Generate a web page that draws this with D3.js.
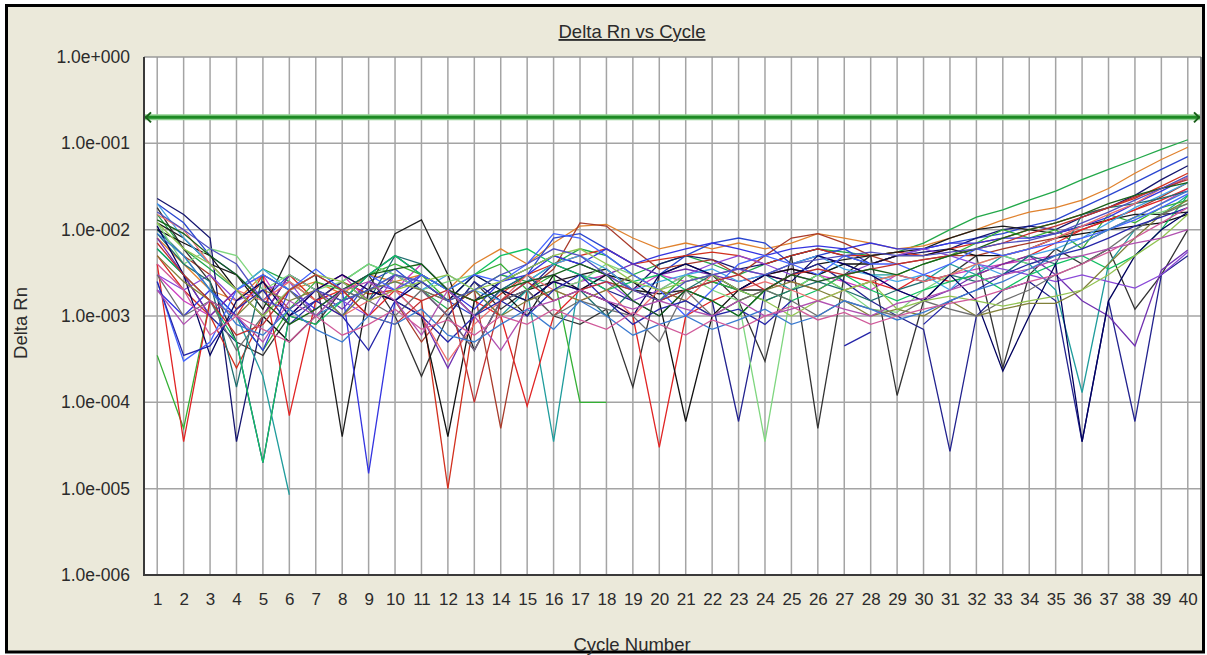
<!DOCTYPE html>
<html>
<head>
<meta charset="utf-8">
<script src="https://cdn.jsdelivr.net/npm/d3@7"></script>
<style>
  body { margin: 0; background: #fff; }
  svg text { font-family: "Liberation Sans", Arial, sans-serif; fill: #2b2b2b; }
</style>
</head>
<body>
<div id="chart"></div>
<script>
// cycle numbers on the x axis
var cycles = [1,2,3,4,5,6,7,8,9,10,11,12,13,14,15,16,17,18,19,20,21,22,23,24,25,26,27,28,29,30,31,32,33,34,35,36,37,38,39,40];
// decades on the log y axis
var yTicks = [1e-6, 1e-5, 1e-4, 1e-3, 1e-2, 1e-1, 1];
var threshold = 0.2;

// delta Rn per well, one value per cycle (null = not plotted)
var w01 = [1.5e-2,6e-3,3.5e-3,2e-3,3.5e-3,2.5e-3,1.5e-3,2.5e-3,4e-3,3e-3,2e-3,1.2e-3,2e-3,3e-3,2.5e-3,4e-3,6e-3,5e-3,3e-3,4e-3,5e-3,4e-3,3e-3,4e-3,5e-3,6e-3,5.5e-3,5e-3,5.5e-3,7e-3,1e-2,1.4e-2,1.7e-2,2.2e-2,2.8e-2,3.8e-2,5e-2,6.5e-2,8.5e-2,1.1e-1];
var w02 = [8e-3,4e-3,2e-3,1.5e-3,3e-3,2e-3,2.5e-3,1.8e-3,3e-3,2.5e-3,3e-3,2e-3,4e-3,6e-3,4e-3,7e-3,1.1e-2,1.15e-2,8e-3,6e-3,7e-3,6e-3,7e-3,6e-3,7e-3,9e-3,8e-3,7e-3,6e-3,6.5e-3,8e-3,1e-2,1.3e-2,1.6e-2,1.8e-2,2.2e-2,3e-2,4.5e-2,6.5e-2,9e-2];
var w03 = [2e-2,1.2e-2,5e-3,3e-3,1.5e-3,3e-3,2e-3,1e-3,2.5e-3,3.5e-3,2e-3,1.5e-3,1e-3,2e-3,3e-3,8e-3,9e-3,6e-3,4e-3,3e-3,5e-3,7e-3,8e-3,7e-3,4e-3,5e-3,6e-3,4e-3,5e-3,6e-3,7e-3,8e-3,9e-3,1.1e-2,1.3e-2,1.8e-2,2.5e-2,3.5e-2,5e-2,7e-2];
var w04 = [2.3e-2,1.5e-2,8e-3,3.5e-5,1e-3,3e-3,2e-3,1.5e-3,3e-3,5e-3,3e-3,2e-3,1.5e-3,2.5e-3,3.5e-3,5e-3,4e-3,3e-3,2e-3,4e-3,5e-3,4.5e-3,3.5e-3,4e-3,5e-3,6e-3,5e-3,4e-3,5e-3,5.5e-3,6e-3,8e-3,1e-2,1.1e-2,1e-2,1.4e-2,1.8e-2,2.5e-2,3.8e-2,5.5e-2];
var w05 = [5e-3,2e-3,1e-3,2.5e-4,1e-3,3e-3,1.5e-3,2.5e-3,1.8e-3,2e-3,1.5e-3,1e-5,1e-3,1.8e-3,3e-3,4e-3,5e-3,6e-3,4e-3,4.5e-3,5e-3,5.5e-3,5e-3,4e-3,5e-3,6e-3,5e-3,5e-3,5.5e-3,5e-3,6e-3,7e-3,8e-3,1e-2,1.2e-2,1.5e-2,1.8e-2,2.3e-2,3.2e-2,4.5e-2];
var w06 = [1e-2,5e-3,3e-3,1.2e-3,2.5e-3,1.2e-3,2e-3,3e-3,2e-3,1.5e-3,5e-4,1.2e-3,2e-3,5e-5,2e-3,3.5e-3,1.2e-2,1.1e-2,6e-3,3.5e-3,4e-3,4.5e-3,3e-3,5e-3,8e-3,9e-3,7e-3,5e-3,4e-3,4.5e-3,5e-3,5e-3,6e-3,7e-3,8e-3,1e-2,1.3e-2,1.7e-2,2.4e-2,3.5e-2];
var w07 = [3e-3,1.5e-3,1e-3,2e-3,3e-3,1e-3,2e-3,3e-3,1.5e-3,2e-3,4e-3,2e-3,1e-3,2e-3,1.5e-3,2e-3,2.5e-3,3e-3,2e-3,3e-3,2.5e-3,3e-3,3.5e-3,3e-3,3.5e-3,3e-3,2.5e-3,2e-3,3e-3,2.5e-3,3e-3,3.5e-3,4e-3,4.5e-3,5e-3,7e-3,1e-2,1.4e-2,2e-2,3e-2];
var w08 = [1.2e-2,8e-3,4e-3,3e-3,1.2e-3,5e-3,3e-3,4e-5,2e-3,9e-3,1.3e-2,3e-3,4e-4,1.5e-3,2e-3,2.5e-3,3e-3,3.5e-3,2e-3,1.8e-3,2e-3,2.5e-3,2e-3,2e-3,3e-3,4e-3,4.5e-3,5e-3,5.5e-3,6e-3,8e-3,1e-2,1.1e-2,1e-2,9e-3,1.1e-2,1.3e-2,1.5e-2,1.5e-2,1.6e-2];
var w09 = [1.8e-2,6e-3,2.5e-3,5e-4,3.5e-4,1e-3,8e-4,2e-3,3e-3,1e-3,2e-4,1e-3,2.5e-3,1.2e-3,2e-3,1e-3,8e-4,1.2e-3,1.5e-4,3e-3,4e-3,3e-3,1.5e-3,3e-4,5e-3,5e-5,3e-3,5e-3,1.2e-4,1.5e-3,3e-3,5e-3,2.5e-4,3e-3,6e-3,4e-3,6e-3,1.2e-3,3e-3,1e-2];
var w10 = [6e-3,3e-3,1e-3,5e-4,2e-5,1e-3,1.5e-3,2.5e-3,1.5e-3,3e-3,2e-3,1e-3,2.5e-3,1.5e-3,2e-3,4e-3,3e-3,2e-3,1.5e-3,1e-3,2e-3,1.5e-3,6e-5,2e-3,3e-3,4e-3,2.5e-3,1.5e-3,1e-3,7e-4,2.7e-5,1e-3,2e-3,2.5e-3,1.5e-3,3.5e-5,1.5e-3,6e-5,3e-3,5e-3];
var w11 = [1e-2,5e-3,2e-3,1e-3,2e-4,8.5e-6,null,1.5e-3,2e-3,3e-3,2.5e-3,1.5e-3,2e-3,1e-3,2e-3,3.5e-5,3e-3,2.5e-3,2e-3,1.5e-3,2e-3,2.5e-3,2e-3,3e-3,2e-3,3e-3,4e-3,3e-3,3e-3,2.5e-3,4e-3,3e-3,5e-3,4e-3,2e-3,1.3e-4,4e-3,1e-2,1.5e-2,2.5e-2];
var w12 = [3.5e-4,5e-5,1.5e-3,1e-3,4e-4,1.2e-3,2.5e-3,2e-3,3e-3,4e-3,3e-3,1.5e-3,3e-3,4e-3,2e-3,3e-3,1e-4,1e-4,null,1.5e-3,3e-3,2.5e-3,2e-3,1.5e-3,2e-3,3e-3,2e-3,2.5e-3,3e-3,4e-3,5e-3,7e-3,1e-2,8e-3,1e-2,6e-3,1.5e-2,1.2e-2,1.8e-2,2.2e-2];
var w13 = [4e-3,3.5e-5,1.5e-3,1e-3,3e-3,7e-5,1.5e-3,2e-3,1e-3,2e-3,3e-3,2e-3,1.5e-3,1e-3,9e-5,1e-3,2e-3,1.5e-3,1e-3,3e-5,1e-3,1.5e-3,2e-3,3e-3,2.5e-3,2e-3,3e-3,2.5e-3,2e-3,3e-3,2.5e-3,3e-3,4e-3,5e-3,7e-3,1e-2,1.3e-2,1.7e-2,2.2e-2,3e-2];
var w14 = [2e-3,1e-3,2e-3,1e-3,4e-4,2e-3,1.2e-3,2e-3,1.5e-5,1.5e-3,3e-3,2e-3,1.2e-3,2.5e-3,3e-3,5e-3,4e-3,6e-3,4e-3,5e-3,6e-3,7e-3,6e-3,5e-3,6e-3,6.5e-3,6e-3,7e-3,6e-3,6e-3,7e-3,7e-3,8e-3,8e-3,9e-3,1.1e-2,1.4e-2,2e-2,2.8e-2,4e-2];
var w15 = [8e-3,3e-3,1e-3,2e-3,1e-3,3e-3,2e-3,1.2e-3,2.5e-3,2e-3,1e-3,2.5e-4,1e-3,2e-3,1.5e-3,2.5e-3,2e-3,3e-3,4e-3,3e-3,3.5e-3,3e-3,2.5e-3,3e-3,4e-3,5e-3,4e-3,3e-3,2e-3,1.5e-3,2e-3,3e-3,4e-3,5e-3,3e-3,1.5e-3,1e-3,4.5e-4,3.4e-3,5.8e-3];
var w16 = [3e-3,2e-3,3e-3,1.5e-3,2e-3,2.5e-3,1e-3,1.5e-3,1e-3,3e-3,2e-3,1e-3,4e-4,1.5e-3,2.5e-3,3e-3,2e-3,2.5e-3,1.5e-3,2e-3,3e-3,4e-3,5e-3,4e-3,3e-3,2.5e-3,3e-3,4e-3,5e-3,6e-3,5e-3,4e-3,3.5e-3,3e-3,2.5e-3,3e-3,2.5e-3,2.1e-3,3e-3,5.5e-3];
var w17 = [1e-2,7e-3,5e-3,2e-3,1e-3,5e-4,1e-3,1.5e-3,2e-3,1.5e-3,1e-3,4e-5,1.5e-3,2e-3,1e-3,3e-3,2e-3,3e-3,2.5e-3,1.5e-3,6e-5,1e-3,2e-3,3e-3,3.5e-3,3e-3,4e-3,4e-3,5e-3,5e-3,6e-3,5e-3,5e-3,6e-3,8e-3,9e-3,1e-2,1.1e-2,1.2e-2,1.5e-2];
var w18 = [1.2e-2,4e-3,6e-3,5e-3,2e-3,3e-3,2e-3,2.5e-3,4e-3,3e-3,2e-3,2.5e-3,3e-3,2e-3,1.5e-3,2e-3,2.5e-3,4e-3,3e-3,2e-3,3e-3,2e-3,1.5e-3,3.5e-5,2e-3,3e-3,2e-3,1.2e-3,1.1e-3,2e-3,3e-3,4e-3,5e-3,4e-3,5e-3,7e-3,1e-2,1.4e-2,1.6e-2,2e-2];
var w19 = [2e-2,8e-3,4e-3,2e-3,3.5e-3,2e-3,1e-3,1.5e-3,2e-3,2.5e-3,2e-3,3e-3,2e-3,1.5e-3,2.5e-3,4e-3,5e-3,3.5e-3,2e-3,2.5e-3,3e-3,3.5e-3,2.5e-3,3e-3,4e-3,5e-3,3.5e-3,3e-3,2.5e-3,3e-3,2e-3,4e-3,3e-3,5e-3,6e-3,8e-3,1.2e-2,1.8e-2,2.5e-2,3.5e-2];
var w20 = [9e-3,4e-3,2.5e-3,1.5e-4,3e-3,2e-3,3e-3,2e-3,1.5e-3,5e-3,4e-3,2e-3,1e-3,2e-3,3e-3,1.5e-3,2e-3,1e-3,2e-3,1.5e-3,2e-3,3e-3,2e-3,1.5e-3,2e-3,2.5e-3,2e-3,1.5e-3,2e-3,2.5e-3,3e-3,2.5e-3,3e-3,5e-3,4e-3,1.5e-2,1.8e-2,2e-2,2.3e-2,2.8e-2];
var w21 = [6e-3,3e-3,1.5e-3,5e-4,2e-5,1e-3,8e-4,1.5e-3,3e-3,5e-3,3e-3,2e-3,3e-3,5e-3,6e-3,4e-3,3e-3,2e-3,2.5e-3,3e-3,2e-3,1.5e-3,1e-3,2e-3,1.5e-3,2e-3,3e-3,2e-3,1.5e-3,2e-3,2.5e-3,3e-3,2e-3,3e-3,4e-3,5e-3,3.5e-3,5e-3,1e-2,2.5e-2];
var w22 = [1.5e-2,1e-2,4e-3,2e-3,1.5e-3,2.5e-3,1.5e-3,1e-3,1.5e-3,2e-3,1e-3,3e-4,8e-4,1.5e-3,3e-3,2e-3,1.5e-3,2e-3,1e-3,2e-3,1.5e-3,3e-3,2e-3,2.5e-3,2e-3,1.5e-3,2e-3,2.5e-3,3e-3,2.5e-3,3e-3,4e-3,5e-3,6e-3,8e-3,1.1e-2,1.5e-2,2e-2,3e-2,4e-2];
var w23 = [1.1e-2,3e-3,3.5e-4,1.5e-3,2.5e-3,1e-3,2e-3,3e-3,2e-3,1.5e-3,2.5e-3,1.5e-3,3e-3,2e-3,1.5e-3,2.5e-3,2e-3,1.5e-3,1e-3,3e-3,4e-3,3e-3,2e-3,3e-3,2.5e-3,5e-3,4e-3,3e-3,2e-3,1.5e-3,3e-3,1.5e-3,2.3e-4,1e-3,4e-3,3.5e-5,1.5e-3,5e-3,1e-2,1.6e-2];
var w24 = [5e-3,2.5e-3,1.5e-3,1e-3,2e-3,1.5e-3,2e-3,1e-3,2e-3,2.5e-3,2e-3,1.5e-3,2e-3,1e-3,1.5e-3,2e-3,1.5e-3,2e-3,3e-3,2e-3,1.5e-3,1e-3,1.5e-3,2e-3,2.5e-3,2e-3,1.5e-3,1e-3,1.2e-3,1e-3,1.5e-3,1e-3,1.2e-3,1.4e-3,1.4e-3,2e-3,4e-3,8e-3,1.5e-2,2.2e-2];
var w25 = [2.5e-3,3e-4,5e-4,2e-3,3e-3,2e-3,3.5e-3,2e-3,3e-3,2e-3,3e-3,2e-3,3e-3,2.5e-3,4e-3,9e-3,8e-3,5e-3,3e-3,2e-3,1e-3,2e-3,4e-3,5e-3,4e-3,3e-3,5e-3,4e-3,4e-3,3e-3,4e-3,6e-3,5e-3,6e-3,7e-3,8e-3,1e-2,1.3e-2,1.8e-2,2.6e-2];
var w26 = [3e-3,1e-3,1.5e-3,4e-4,1e-3,2e-3,1e-3,2e-3,1.5e-3,1e-3,2e-3,1e-3,4e-4,1.5e-3,2e-3,1e-3,1.5e-3,1.2e-3,1e-3,5e-4,2e-3,1e-3,1.5e-3,2e-3,1.5e-3,1e-3,1.5e-3,1.2e-3,1e-3,1.5e-3,1.2e-3,1e-3,1.5e-3,2e-3,3e-3,4e-3,6e-3,1e-2,1.5e-2,2e-2];
var w27 = [2.5e-3,3.5e-4,4.5e-4,1.2e-3,2e-3,8e-4,1.5e-3,1e-3,4e-4,1.5e-3,1e-3,5e-4,1e-3,1.5e-3,1e-3,2e-3,3e-3,1.5e-3,8e-4,1.2e-3,1.5e-3,1e-3,1.2e-3,8e-4,1.5e-3,null,4.5e-4,6.5e-4,null,8e-4,1.5e-3,2e-3,3e-3,4e-3,5e-3,6e-3,8e-3,1.1e-2,1.4e-2,1.8e-2];
var w28 = [1.2e-2,6e-3,4e-3,2e-3,1e-3,2e-3,3e-3,2.5e-3,1.5e-3,2e-3,2.5e-3,3e-3,2e-3,2.5e-3,3.5e-3,5e-3,6e-3,4e-3,2.5e-3,2e-3,2.5e-3,3e-3,2e-3,1.5e-3,1e-3,1.5e-3,2e-3,2.5e-3,1.2e-3,1.5e-3,1.7e-3,1.5e-3,1.3e-3,1.5e-3,1.7e-3,2e-3,3e-3,5e-3,8e-3,1.5e-2];
var w29 = [7e-3,3e-3,1.5e-3,6e-4,8e-4,2e-3,3e-3,2e-3,1e-3,8e-4,1.5e-3,2e-3,1e-4,1.5e-3,2.5e-3,1.5e-3,2e-3,2.5e-3,2e-3,1.5e-3,2e-3,2.5e-3,3e-3,2e-3,3e-3,3.5e-3,3e-3,3.5e-3,4e-3,4.5e-3,5e-3,6e-3,7e-3,9e-3,1.1e-2,1.4e-2,1.8e-2,2.4e-2,3e-2,3.8e-2];
var w30 = [1.3e-2,9e-3,5e-3,3e-3,1.5e-3,8e-4,1.2e-3,2e-3,3e-3,3.5e-3,4e-3,2e-3,1.5e-3,2e-3,2.5e-3,3e-3,4e-3,3e-3,1.5e-3,1e-3,2e-3,1.5e-3,1e-3,2e-3,3e-3,2.5e-3,3e-3,3.5e-3,3e-3,4e-3,5e-3,6e-3,8e-3,1e-2,1.2e-2,1.5e-2,2e-2,2.5e-2,3e-2,3.5e-2];
var w31 = [1.6e-2,1e-2,6e-3,4e-3,1.5e-3,1.2e-3,2e-3,1.5e-3,2e-3,3e-3,2.5e-3,1.5e-3,2e-3,3e-3,4e-3,6e-3,5e-3,3e-3,2e-3,1.5e-3,2.5e-3,3e-3,3.5e-3,3e-3,4e-3,4.5e-3,5e-3,5.5e-3,5e-3,5e-3,5.5e-3,6e-3,7e-3,7.5e-3,9e-3,1.2e-2,1.6e-2,2.2e-2,3e-2,4.2e-2];
var w32 = [2e-3,8e-4,1.5e-3,1e-3,5e-4,1.5e-3,1e-3,2e-3,2.5e-3,1.5e-3,6e-4,2e-3,1e-3,4e-4,1.2e-3,1.5e-3,2e-3,1.5e-3,1.2e-3,1.5e-3,1.2e-3,1e-3,1.5e-3,1e-3,1.2e-3,1.5e-3,1.2e-3,1e-3,1.4e-3,1.6e-3,2e-3,2.5e-3,3e-3,3.5e-3,4.5e-3,5e-3,6e-3,7e-3,8e-3,1e-2];
var w33 = [9e-3,5e-3,2e-3,8e-4,6e-4,1.2e-3,7e-4,5e-4,1e-3,8e-4,1.2e-3,6e-4,5e-4,8e-4,1.2e-3,7e-4,1.5e-3,1e-3,6e-4,8e-4,1e-3,7e-4,9e-4,1.2e-3,8e-4,1e-3,1.5e-3,1.2e-3,9e-4,1.1e-3,1.5e-3,2e-3,2.5e-3,3.5e-3,5e-3,7e-3,1e-2,1.4e-2,2e-2,2.8e-2];
var w34 = [4e-3,2e-3,6e-4,1e-3,7e-4,5e-4,1e-3,6e-4,8e-4,1.2e-3,7e-4,9e-4,6e-4,1e-3,8e-4,1.2e-3,9e-4,7e-4,1.1e-3,8e-4,6e-4,9e-4,7e-4,1e-3,1.3e-3,9e-4,1.1e-3,8e-4,1e-3,1.2e-3,1.4e-3,1.6e-3,2e-3,2.5e-3,3e-3,4e-3,5.5e-3,8e-3,1.2e-2,1.8e-2];

var wells = [w01,w02,w03,w04,w05,w06,w07,w08,w09,w10,w11,w12,w13,w14,w15,w16,w17,
             w18,w19,w20,w21,w22,w23,w24,w25,w26,w27,w28,w29,w30,w31,w32,w33,w34];
var wellColors = ["#23a84a","#e0822e","#2a46d0","#14146e","#d2301e","#a83a2a","#cc3cc0","#1c1c1c","#333333","#22228e",
                  "#1f9c9c","#34b034","#e02424","#3434e0","#7030b0","#8a48d8","#111111","#7fd67f","#44a4e4","#1e6e6e",
                  "#12c062","#ee6e6e","#00005e","#80803a","#4464ff","#6e6e6e","#2424a8","#92c452","#c03030","#186018",
                  "#5050c0","#b050b0","#3a7ad0","#d05a9a"];

var W = 1207, H = 655;
var pL = 144, pR = 1201, pT = 57, pB = 575;

var svg = d3.select("#chart").append("svg")
    .attr("width", W)
    .attr("height", H);

// window frame
svg.append("rect")
    .attr("x", 6.5).attr("y", 5.5)
    .attr("width", 1197).attr("height", 646.5)
    .attr("fill", "#ebe9da")
    .attr("stroke", "#000")
    .attr("stroke-width", 3);

var x = d3.scaleLinear().domain([0.5, 40.5]).range([pL, pR]);
var y = d3.scaleLog().domain([1e-6, 1]).range([pB, pT]);

svg.append("rect")
    .attr("x", pL).attr("y", pT)
    .attr("width", pR - pL).attr("height", pB - pT)
    .attr("fill", "#fff");

// grid
svg.append("g").selectAll("line").data(cycles).join("line")
    .attr("x1", d => x(d)).attr("x2", d => x(d))
    .attr("y1", pT).attr("y2", pB)
    .attr("stroke", "#a4a4a4").attr("stroke-width", 1.5);
svg.append("g").selectAll("line").data(yTicks.slice(1, -1)).join("line")
    .attr("x1", pL).attr("x2", pR)
    .attr("y1", d => y(d)).attr("y2", d => y(d))
    .attr("stroke", "#a4a4a4").attr("stroke-width", 1.5);

svg.append("clipPath").attr("id", "plot")
  .append("rect")
    .attr("x", pL).attr("y", pT)
    .attr("width", pR - pL).attr("height", pB - pT);

var line = d3.line()
    .defined(d => d != null)
    .x((d, i) => x(cycles[i]))
    .y(d => y(d));

svg.append("g").attr("clip-path", "url(#plot)")
  .selectAll("path").data(wells).join("path")
    .attr("d", line)
    .attr("fill", "none")
    .attr("stroke", (d, i) => wellColors[i])
    .attr("stroke-width", 1.3)
    .attr("stroke-linejoin", "miter");

// threshold
var ty = y(threshold);
svg.append("line")
    .attr("x1", pL + 1).attr("x2", pR - 1)
    .attr("y1", ty).attr("y2", ty)
    .attr("stroke", "#8fd08f").attr("stroke-width", 6);
svg.append("line")
    .attr("x1", pL + 1).attr("x2", pR - 1)
    .attr("y1", ty).attr("y2", ty)
    .attr("stroke", "#1d8a24").attr("stroke-width", 3);
svg.append("path")
    .attr("d", "M" + (pL + 7) + "," + (ty - 5) + "L" + (pL + 2) + "," + ty + "L" + (pL + 7) + "," + (ty + 5))
    .attr("fill", "none").attr("stroke", "#1a5e1a").attr("stroke-width", 2);
svg.append("path")
    .attr("d", "M" + (pR - 7) + "," + (ty - 5) + "L" + (pR - 2) + "," + ty + "L" + (pR - 7) + "," + (ty + 5))
    .attr("fill", "none").attr("stroke", "#1a5e1a").attr("stroke-width", 2);

// plot border
svg.append("line").attr("x1", pL).attr("x2", pR).attr("y1", pT).attr("y2", pT)
    .attr("stroke", "#9a9a9a").attr("stroke-width", 1.5);
svg.append("line").attr("x1", pR).attr("x2", pR).attr("y1", pT).attr("y2", pB)
    .attr("stroke", "#6a6a6a").attr("stroke-width", 1.5);
svg.append("line").attr("x1", pL).attr("x2", pL).attr("y1", pT).attr("y2", pB + 1)
    .attr("stroke", "#3a3a3a").attr("stroke-width", 2);
svg.append("line").attr("x1", pL).attr("x2", pR + 1).attr("y1", pB).attr("y2", pB)
    .attr("stroke", "#3a3a3a").attr("stroke-width", 2);

function sci(d) {
  var e = Math.round(Math.log10(d));
  return "1.0e" + (e >= 0 ? "+" : "-") + String(Math.abs(e)).padStart(3, "0");
}

var gY = svg.append("g")
    .attr("transform", "translate(" + pL + ",0)")
    .call(d3.axisLeft(y).tickValues(yTicks).tickFormat(sci).tickSize(0).tickPadding(14));
var gX = svg.append("g")
    .attr("transform", "translate(0," + pB + ")")
    .call(d3.axisBottom(x).tickValues(cycles).tickFormat(d3.format("d")).tickSize(0).tickPadding(18));
gY.select(".domain").remove();
gX.select(".domain").remove();
gY.selectAll("text").attr("font-size", 17.5).attr("font-family", "Liberation Sans, Arial, sans-serif").attr("fill", "#2b2b2b");
gX.selectAll("text").attr("font-size", 17).attr("font-family", "Liberation Sans, Arial, sans-serif").attr("fill", "#2b2b2b");

svg.append("text")
    .attr("x", 632).attr("y", 38)
    .attr("text-anchor", "middle")
    .attr("font-size", 18.5)
    .attr("text-decoration", "underline")
    .text("Delta Rn vs Cycle");

svg.append("text")
    .attr("x", 632).attr("y", 651)
    .attr("text-anchor", "middle")
    .attr("font-size", 18.5)
    .text("Cycle Number");

svg.append("text")
    .attr("transform", "translate(27,323) rotate(-90)")
    .attr("text-anchor", "middle")
    .attr("font-size", 18.5)
    .text("Delta Rn");
</script>
</body>
</html>
